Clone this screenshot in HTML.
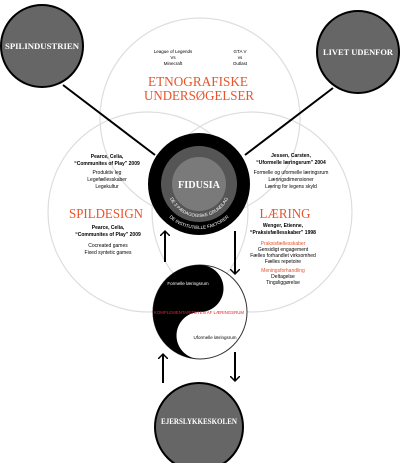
<!DOCTYPE html>
<html><head><meta charset="utf-8"><style>
html,body{margin:0;padding:0;background:#fff;}
svg{display:block;}
text{font-family:"Liberation Sans",sans-serif;}
.s{font-family:"Liberation Serif",serif;}
</style></head><body>
<svg width="400" height="463" viewBox="0 0 400 463" xmlns="http://www.w3.org/2000/svg">
<defs>
<path id="p1" d="M167,185 A32,32 0 0 0 231,185"/>
<path id="p2" d="M155,185 A44,44 0 0 0 243,185"/>
<marker id="ah" markerWidth="10" markerHeight="10" refX="5" refY="5" orient="auto" markerUnits="userSpaceOnUse">
<path d="M0,0 L5,5 L0,10" fill="none" stroke="#000" stroke-width="1.5"/>
</marker>
</defs>
<circle cx="200" cy="118" r="100" fill="none" stroke="#ddd" stroke-width="1.2"/>
<circle cx="148" cy="212" r="100" fill="none" stroke="#ddd" stroke-width="1.2"/>
<circle cx="252" cy="212" r="100" fill="none" stroke="#ddd" stroke-width="1.2"/>
<line x1="63" y1="85" x2="155" y2="155" stroke="#000" stroke-width="2"/>
<line x1="333" y1="88" x2="245" y2="155" stroke="#000" stroke-width="2"/>
<circle cx="42" cy="46" r="41" fill="#666" stroke="#000" stroke-width="2"/>
<text x="42" y="49" text-anchor="middle" class="s" font-size="8.5" font-weight="bold" fill="#fff" textLength="74" lengthAdjust="spacingAndGlyphs">SPILINDUSTRIEN</text>
<circle cx="358" cy="52" r="41" fill="#666" stroke="#000" stroke-width="2"/>
<text x="358" y="55" text-anchor="middle" class="s" font-size="8.5" font-weight="bold" fill="#fff" textLength="70" lengthAdjust="spacingAndGlyphs">LIVET UDENFOR</text>
<g font-size="4.5" text-anchor="middle" fill="#000">
<text x="173" y="53">League of Legends</text><text x="173" y="59">Vs</text><text x="173" y="65">Minecraft</text>
<text x="240" y="53">GTA V</text><text x="240" y="59">vs</text><text x="240" y="65">Outlast</text>
</g>
<text x="198" y="86" text-anchor="middle" class="s" font-size="14" fill="#e8542a" textLength="100" lengthAdjust="spacingAndGlyphs">ETNOGRAFISKE</text>
<text x="199" y="100" text-anchor="middle" class="s" font-size="14" fill="#e8542a" textLength="110" lengthAdjust="spacingAndGlyphs">UNDERSØGELSER</text>
<g text-anchor="middle" font-size="5">
<text x="107" y="158" font-weight="bold">Pearce, Celia,</text>
<text x="107" y="165" font-weight="bold">“Communites of Play”  2009</text>
<text x="107" y="174">Produktiv leg</text>
<text x="107" y="181">Legefællesskaber</text>
<text x="107" y="188">Legekultur</text>
<text x="108" y="229" font-weight="bold">Pearce, Celia,</text>
<text x="108" y="236" font-weight="bold">“Communites of Play”  2009</text>
<text x="108" y="247">Cocreated games</text>
<text x="108" y="254">Fixed syntetic games</text>
</g>
<text x="106" y="218" text-anchor="middle" class="s" font-size="14" fill="#e8542a" textLength="74" lengthAdjust="spacingAndGlyphs">SPILDESIGN</text>
<g text-anchor="middle" font-size="5">
<text x="291" y="157" font-weight="bold">Jessen, Carsten,</text>
<text x="291" y="164" font-weight="bold">“Uformelle læringsrum” 2004</text>
<text x="291" y="174">Formelle og uformelle læringsrum</text>
<text x="291" y="181">Læringsdimensioner</text>
<text x="291" y="188">Læring for legens skyld</text>
<text x="283" y="227" font-weight="bold">Wenger, Etienne,</text>
<text x="283" y="234" font-weight="bold">“Praksisfællesskaber”  1998</text>
<text x="283" y="245" fill="#e8542a">Praksisfællesskaber</text>
<text x="283" y="251">Gensidigt engagement</text>
<text x="283" y="257">Fælles forhandlet virksomhed</text>
<text x="283" y="263">Fælles repetoire</text>
<text x="283" y="272" fill="#e8542a">Meningsforhandling</text>
<text x="283" y="278">Deltagelse</text>
<text x="283" y="284">Tingsliggørelse</text>
</g>
<text x="285" y="218" text-anchor="middle" class="s" font-size="14" fill="#e8542a" textLength="51" lengthAdjust="spacingAndGlyphs">LÆRING</text>
<circle cx="199" cy="184" r="51" fill="#000"/>
<circle cx="199" cy="184" r="38" fill="#555"/>
<circle cx="199" cy="184" r="27" fill="#7a7a7a"/>
<text x="199" y="188" text-anchor="middle" class="s" font-size="11" fill="#fff" font-weight="bold" textLength="42" lengthAdjust="spacingAndGlyphs">FIDUSIA</text>
<text font-size="4.5" fill="#fff"><textPath href="#p1" startOffset="50%" text-anchor="middle">DE 3 PÆDAGOGISKE GRUNDLAG</textPath></text>
<text font-size="4.5" fill="#fff"><textPath href="#p2" startOffset="50%" text-anchor="middle">DE INSTITUTIELLE FAKTORER</textPath></text>
<line x1="165" y1="262" x2="165" y2="231" stroke="#000" stroke-width="2" marker-end="url(#ah)"/>
<line x1="235" y1="231" x2="235" y2="274" stroke="#000" stroke-width="2" marker-end="url(#ah)"/>
<line x1="163" y1="383" x2="163" y2="354" stroke="#000" stroke-width="2" marker-end="url(#ah)"/>
<line x1="235" y1="352" x2="235" y2="381" stroke="#000" stroke-width="2" marker-end="url(#ah)"/>
<circle cx="200" cy="312" r="47" fill="#fff" stroke="#333" stroke-width="1"/>
<path d="M200,265 A47,47 0 0 0 200,359 A23.5,23.5 0 0 1 200,312 A23.5,23.5 0 0 0 200,265 Z" fill="#000"/>
<text x="188" y="285" text-anchor="middle" font-size="4.5" fill="#fff">Formelle læringsrum</text>
<text x="199" y="314" text-anchor="middle" font-size="4.6" fill="#e8202a" textLength="90" lengthAdjust="spacingAndGlyphs">KOMPLEMENTARITETEN AF LÆRINGSRUM</text>
<text x="215" y="339" text-anchor="middle" font-size="4.5" fill="#000">Uformelle læringsrum</text>
<circle cx="199" cy="427" r="44" fill="#666" stroke="#000" stroke-width="2"/>
<text x="199" y="424" text-anchor="middle" class="s" font-size="8.5" font-weight="bold" fill="#fff" textLength="76" lengthAdjust="spacingAndGlyphs">EJERSLYKKESKOLEN</text>
</svg>
</body></html>
